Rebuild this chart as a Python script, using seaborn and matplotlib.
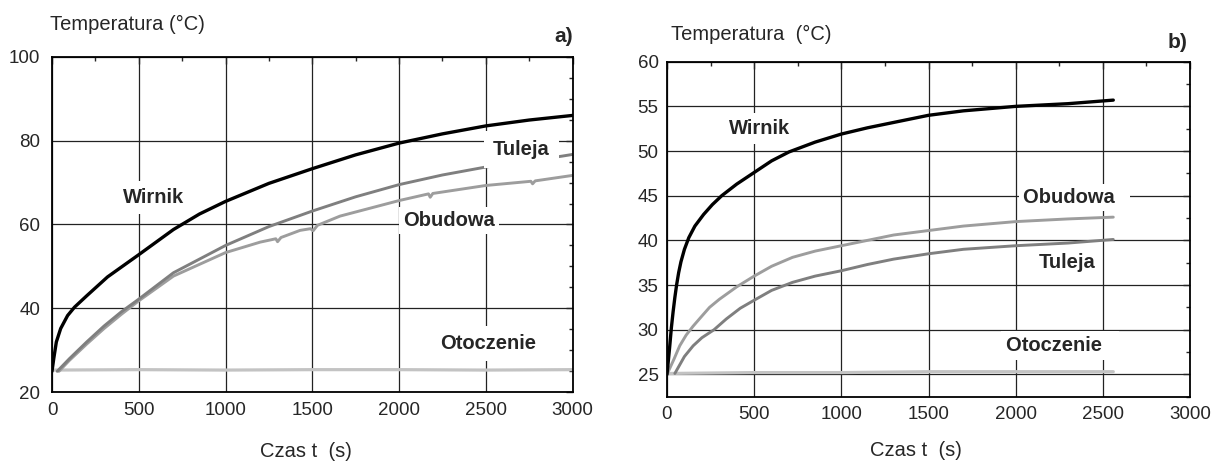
import matplotlib
matplotlib.use('Agg')
import matplotlib.pyplot as plt
from matplotlib.ticker import MultipleLocator
import seaborn as sns

# --- panel a) readings ---
wirnik_a_t = [0, 10, 25, 50, 90, 130, 200, 320, 500, 700, 850, 1000, 1250, 1500, 1750, 2000, 2250, 2500, 2750, 3000]
wirnik_a_T = [25, 28, 32, 35.2, 38.3, 40.3, 43, 47.5, 52.8, 58.8, 62.5, 65.5, 69.8, 73.3, 76.6, 79.4, 81.6, 83.5, 84.9, 86.0]

tuleja_a_t = [30, 100, 200, 300, 400, 500, 700, 1000, 1250, 1500, 1750, 2000, 2250, 2500, 2640, 2940, 3000]
tuleja_a_T = [25, 28, 32, 35.8, 39.2, 42.2, 48.5, 55.0, 59.5, 63.2, 66.6, 69.5, 71.8, 73.7, 74.5, 76.3, 76.7]

obudowa_a_t = [40, 100, 200, 300, 400, 500, 700, 1000, 1200, 1290, 1300, 1320, 1430, 1490, 1505, 1530, 1660,
               2000, 2170, 2180, 2195, 2500, 2760, 2770, 2785, 3000]
obudowa_a_T = [25, 27.6, 31.5, 35.2, 38.6, 41.8, 47.7, 53.3, 55.8, 56.6, 55.9, 56.9, 58.6, 59.0, 58.5, 59.8, 62.0,
               65.7, 67.3, 66.5, 67.4, 69.3, 70.3, 69.7, 70.4, 71.7]

otoczenie_a_t = [0, 500, 1000, 1500, 2000, 2500, 3000]
otoczenie_a_T = [25.3, 25.4, 25.3, 25.4, 25.4, 25.3, 25.4]

# --- panel b) readings ---
wirnik_b_t = [0, 8, 15, 25, 35, 45, 55, 67, 80, 100, 125, 160, 210, 260, 314, 400, 500, 600, 700, 850, 1000,
              1150, 1300, 1500, 1700, 2000, 2300, 2560]
wirnik_b_T = [25, 26.6, 28, 30.2, 32, 33.6, 35, 36.4, 37.6, 39, 40.3, 41.6, 42.9, 44, 45, 46.3, 47.6, 48.9, 49.9,
              51.0, 51.9, 52.6, 53.2, 54.0, 54.5, 55.0, 55.3, 55.7]

obudowa_b_t = [0, 40, 73, 110, 150, 190, 244, 300, 400, 500, 600, 720, 850, 1000, 1150, 1300, 1500, 1700, 2000, 2300, 2560]
obudowa_b_T = [25, 26.7, 28.2, 29.4, 30.4, 31.3, 32.5, 33.4, 34.8, 36.0, 37.1, 38.1, 38.8, 39.4, 40.0, 40.6, 41.1,
               41.6, 42.1, 42.4, 42.6]

tuleja_b_t = [45, 100, 150, 200, 270, 340, 420, 500, 600, 720, 850, 1000, 1150, 1300, 1500, 1700, 2000, 2300, 2560]
tuleja_b_T = [25.1, 27, 28.2, 29.1, 30.0, 31.2, 32.4, 33.3, 34.4, 35.3, 36.0, 36.6, 37.3, 37.9, 38.5, 39.0, 39.4,
              39.7, 40.1]

otoczenie_b_t = [0, 500, 1000, 1500, 2000, 2560]
otoczenie_b_T = [25.1, 25.2, 25.2, 25.3, 25.3, 25.3]

sns.set_style('white')
plt.rcParams['font.family'] = ['Liberation Sans', 'DejaVu Sans']

W, H = 1213, 461
fig = plt.figure(figsize=(W / 100, H / 100), dpi=100)
ax_a = fig.add_axes([52 / W, 1 - 392.3 / H, 520.5 / W, 335.6 / H])
ax_b = fig.add_axes([667 / W, 1 - 396.7 / H, 523 / W, 335 / H])

C_WIRNIK = 'black'
C_TULEJA = '#7f7f7f'
C_OBUDOWA = '#9d9d9d'
C_OTOCZ = '#c3c3c3'

sns.lineplot(x=otoczenie_a_t, y=otoczenie_a_T, ax=ax_a, color=C_OTOCZ, lw=2.3)
sns.lineplot(x=obudowa_a_t, y=obudowa_a_T, ax=ax_a, color=C_OBUDOWA, lw=2.1)
sns.lineplot(x=tuleja_a_t, y=tuleja_a_T, ax=ax_a, color=C_TULEJA, lw=2.1)
sns.lineplot(x=wirnik_a_t, y=wirnik_a_T, ax=ax_a, color=C_WIRNIK, lw=2.4)

sns.lineplot(x=otoczenie_b_t, y=otoczenie_b_T, ax=ax_b, color=C_OTOCZ, lw=2.3)
sns.lineplot(x=tuleja_b_t, y=tuleja_b_T, ax=ax_b, color=C_TULEJA, lw=2.1)
sns.lineplot(x=obudowa_b_t, y=obudowa_b_T, ax=ax_b, color=C_OBUDOWA, lw=2.1)
sns.lineplot(x=wirnik_b_t, y=wirnik_b_T, ax=ax_b, color=C_WIRNIK, lw=2.4)

ax_a.set_ylim(20, 100)
ax_a.yaxis.set_major_locator(MultipleLocator(20))
ax_a.yaxis.set_minor_locator(MultipleLocator(5))
ax_b.set_ylim(22.5, 60)
ax_b.set_yticks([25, 30, 35, 40, 45, 50, 55, 60])
ax_b.yaxis.set_minor_locator(MultipleLocator(2.5))

for ax, ypad in ((ax_a, 8.5), (ax_b, 6)):
    ax.set_xlim(0, 3000)
    ax.xaxis.set_major_locator(MultipleLocator(500))
    ax.xaxis.set_minor_locator(MultipleLocator(250))
    ax.set_axisbelow(True)
    ax.grid(True, which='major', color='#222222', lw=0.9)
    ax.tick_params(which='both', direction='in', top=True, right=True, labelsize=13.5, width=1.0)
    ax.tick_params(which='major', length=5)
    ax.tick_params(which='minor', length=3)
    ax.tick_params(axis='y', pad=ypad)
    ax.tick_params(axis='x', pad=7)
    for s in ax.spines.values():
        s.set_color('black')
        s.set_linewidth(1.3)
    ax.set_xlabel('')
    ax.set_ylabel('')

lab = dict(fontsize=14.5, fontweight='bold', ha='center', va='center', zorder=5)

def box(p):
    return dict(boxstyle='square,pad=%s' % p, fc='white', ec='none')

ax_a.text(587, 66.4, 'Wirnik', bbox=box(0.35), **lab)
ax_a.text(2705, 77.9, 'Tuleja', bbox=box(0.45), **lab)
ax_a.text(2288, 61.0, 'Obudowa', bbox=box(0.2), **lab)
ax_a.text(2512, 31.7, 'Otoczenie', bbox=box(0.4), **lab)

ax_b.text(528, 52.5, 'Wirnik', bbox=box(0.3), **lab)
ax_b.text(2340, 44.85, 'Obudowa  ', bbox=box(0.2), **lab)
ax_b.text(2298, 37.5, 'Tuleja', bbox=box(0.2), **lab)
ax_b.text(2255, 28.26, 'Otoczenie  ', bbox=box(0.25), **lab)

fig.text(50 / W, 1 - 24 / H, 'Temperatura (°C)', fontsize=14.5, ha='left', va='center')
fig.text(671 / W, 1 - 34 / H, 'Temperatura  (°C)', fontsize=14.5, ha='left', va='center')
fig.text(306 / W, 1 - 451 / H, 'Czas t  (s)', fontsize=14.5, ha='center', va='center')
fig.text(916 / W, 1 - 450 / H, 'Czas t  (s)', fontsize=14.5, ha='center', va='center')
fig.text(573 / W, 1 - 36 / H, 'a)', fontsize=15, fontweight='bold', ha='right', va='center')
fig.text(1187 / W, 1 - 42 / H, 'b)', fontsize=15, fontweight='bold', ha='right', va='center')

fig.savefig('out.png', dpi=100)
